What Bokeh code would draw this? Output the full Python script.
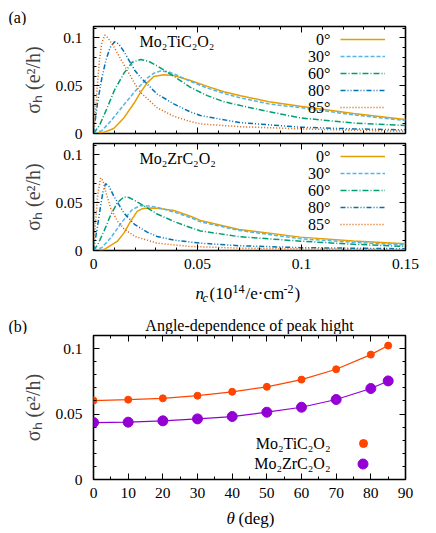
from bokeh.plotting import figure
from bokeh.layouts import column
from bokeh.models import (LinearAxis, FixedTicker, CustomJSTickFormatter, Label,
                          Legend, LegendItem, Range1d)
from bokeh.embed import file_html
from bokeh.resources import INLINE

# ------------------------------------------------------------------ data
angle_labels = ["0°", "30°", "60°", "80°", "85°"]

# panel (a) top: Mo2TiC2O2, sigma_h vs n_c
ti_n_0 = [0, 0.005, 0.0097, 0.0146, 0.0199, 0.0226, 0.0258, 0.029, 0.0338, 0.0386, 0.0466, 0.0547, 0.0627, 0.0707, 0.0843, 0.0995, 0.125, 0.15]
ti_s_0 = [0, 0.0012, 0.0052, 0.0163, 0.033, 0.043, 0.053, 0.0597, 0.0615, 0.0606, 0.0555, 0.0493, 0.0437, 0.0396, 0.0333, 0.0285, 0.021, 0.0146]
ti_n_30 = [0, 0.004, 0.0082, 0.0146, 0.0199, 0.0258, 0.029, 0.0322, 0.036, 0.0386, 0.0466, 0.0547, 0.0627, 0.0707, 0.0843, 0.0995, 0.125, 0.15]
ti_s_30 = [0, 0.003, 0.0128, 0.030, 0.044, 0.058, 0.063, 0.0655, 0.0645, 0.0625, 0.0545, 0.0476, 0.042, 0.0372, 0.031, 0.027, 0.0195, 0.0135]
ti_n_60 = [0, 0.003, 0.0066, 0.01, 0.0146, 0.0186, 0.0226, 0.0266, 0.0306, 0.0386, 0.0466, 0.0547, 0.0627, 0.0707, 0.0843, 0.0995, 0.125, 0.15]
ti_s_60 = [0, 0.009, 0.027, 0.045, 0.063, 0.0745, 0.0775, 0.0755, 0.0708, 0.060, 0.0483, 0.0396, 0.0333, 0.0292, 0.0229, 0.0163, 0.011, 0.0083]
ti_n_80 = [0, 0.002, 0.004, 0.006, 0.008, 0.0101, 0.012, 0.0146, 0.0199, 0.0226, 0.0306, 0.0386, 0.0466, 0.0514, 0.07, 0.0995, 0.125, 0.15]
ti_s_80 = [0, 0.033, 0.058, 0.077, 0.090, 0.096, 0.094, 0.086, 0.066, 0.0587, 0.0413, 0.031, 0.0225, 0.0188, 0.0115, 0.0066, 0.0048, 0.0038]
ti_n_85 = [0, 0.001, 0.002, 0.003, 0.004, 0.0055, 0.007, 0.01, 0.0146, 0.0199, 0.0226, 0.0306, 0.0386, 0.0466, 0.0514, 0.07, 0.0995, 0.125, 0.15]
ti_s_85 = [0, 0.025, 0.055, 0.080, 0.095, 0.103, 0.100, 0.090, 0.072, 0.052, 0.043, 0.027, 0.018, 0.0125, 0.0101, 0.0072, 0.0049, 0.0034, 0.0024]

# panel (a) bottom: Mo2ZrC2O2
zr_n_0 = [0, 0.005, 0.0114, 0.0146, 0.0178, 0.021, 0.0235, 0.026, 0.0306, 0.0386, 0.0466, 0.0514, 0.07, 0.0995, 0.125, 0.15]
zr_s_0 = [0, 0.001, 0.0095, 0.0182, 0.0305, 0.041, 0.0438, 0.0445, 0.0442, 0.0418, 0.0358, 0.0315, 0.022, 0.014, 0.010, 0.007]
zr_n_30 = [0, 0.004, 0.0082, 0.0114, 0.0146, 0.0186, 0.0226, 0.0266, 0.0306, 0.0386, 0.0466, 0.0514, 0.07, 0.0995, 0.125, 0.15]
zr_s_30 = [0, 0.003, 0.013, 0.0228, 0.0323, 0.0428, 0.047, 0.0465, 0.0453, 0.0403, 0.0345, 0.030, 0.021, 0.0123, 0.0085, 0.0058]
zr_n_60 = [0, 0.002, 0.005, 0.0082, 0.0114, 0.0146, 0.017, 0.0199, 0.0258, 0.0306, 0.0386, 0.0466, 0.0514, 0.07, 0.0995, 0.125, 0.15]
zr_s_60 = [0, 0.006, 0.020, 0.0368, 0.0498, 0.056, 0.0555, 0.0523, 0.0446, 0.0382, 0.0305, 0.024, 0.0205, 0.0145, 0.0098, 0.0065, 0.0042]
zr_n_80 = [0, 0.0018, 0.0034, 0.0046, 0.0058, 0.0075, 0.0098, 0.0146, 0.0199, 0.0258, 0.0306, 0.0386, 0.0466, 0.0514, 0.07, 0.0995, 0.15]
zr_s_80 = [0, 0.0235, 0.0463, 0.062, 0.070, 0.067, 0.0568, 0.0393, 0.027, 0.0193, 0.0147, 0.0109, 0.0088, 0.0077, 0.005, 0.003, 0.0018]
zr_n_85 = [0, 0.001, 0.002, 0.0034, 0.0046, 0.0058, 0.0082, 0.0114, 0.0146, 0.0199, 0.0306, 0.0466, 0.07, 0.0995, 0.15]
zr_s_85 = [0, 0.03, 0.058, 0.076, 0.073, 0.062, 0.0446, 0.0312, 0.0228, 0.0147, 0.0077, 0.0042, 0.0025, 0.0017, 0.001]

# panel (b): peak height vs angle
theta = [0, 10, 20, 30, 40, 50, 60, 70, 80, 85]
ti_peak = [0.0603, 0.0610, 0.0620, 0.0640, 0.0670, 0.0708, 0.0763, 0.0842, 0.0954, 0.1023]
zr_peak = [0.0435, 0.0438, 0.0448, 0.0463, 0.0481, 0.0514, 0.0552, 0.0611, 0.0695, 0.0753]

# ticks
nc_ticks = [0, 0.05, 0.1, 0.15]
nc_minor = [0.01, 0.02, 0.03, 0.04, 0.06, 0.07, 0.08, 0.09, 0.11, 0.12, 0.13, 0.14]
sig_ticks = [0, 0.05, 0.1]
sig_minor = [0.01, 0.02, 0.03, 0.04, 0.06, 0.07, 0.08, 0.09, 0.11]
th_ticks = [0, 10, 20, 30, 40, 50, 60, 70, 80, 90]
th_minor = [5, 15, 25, 35, 45, 55, 65, 75, 85]

# ------------------------------------------------------------------ style
FONT = "Liberation Serif"
colors = ["#e69f00", "#56b4e9", "#009e73", "#0072b2", "#d55e00"]
dashes = ["solid", "4 2", "6 2 1 2", "5 2 1 2 1 2", "1 2"]
W = 436
FW = 312
BL = 93
BR = W - BL - FW
NUMFMT = "return tick.toFixed(2).replace(/\\.?0+$/, '')"


def style_axis(ax, labels):
    ax.axis_line_color = None
    ax.major_tick_in = 6
    ax.major_tick_out = 0
    ax.minor_tick_in = 3
    ax.minor_tick_out = 0
    ax.major_tick_line_color = "black"
    ax.minor_tick_line_color = "black"
    if labels:
        ax.major_label_text_font = FONT
        ax.major_label_text_font_size = "15.5px"
        ax.major_label_text_color = "black"
    else:
        ax.formatter = CustomJSTickFormatter(code="return ''")
        ax.major_label_text_font_size = "0px"
        ax.major_label_standoff = 0
        ax.major_label_text_color = None


def make_fig(fh, bt, bb, xr, yr, xt, xm, yt, ym, xlabels, xfmt=None):
    p = figure(frame_width=FW, frame_height=fh, min_border_left=BL, min_border_right=BR,
               min_border_top=bt, min_border_bottom=bb,
               x_range=Range1d(*xr), y_range=Range1d(*yr),
               x_axis_location=None, y_axis_location=None,
               output_backend="svg", toolbar_location=None)
    p.grid.visible = False
    p.outline_line_color = "black"
    p.outline_line_width = 1.6
    p.background_fill_color = "white"
    p.border_fill_color = "white"
    left = LinearAxis(ticker=FixedTicker(ticks=yt, minor_ticks=ym),
                      formatter=CustomJSTickFormatter(code=NUMFMT))
    style_axis(left, True)
    left.major_label_standoff = 11
    left.axis_label = "σₕ (e²/h)"
    left.axis_label_text_font = FONT
    left.axis_label_text_font_size = "20px"
    left.axis_label_text_font_style = "normal"
    left.axis_label_standoff = 8
    p.add_layout(left, "left")
    right = LinearAxis(ticker=FixedTicker(ticks=yt, minor_ticks=ym))
    style_axis(right, False)
    p.add_layout(right, "right")
    below = LinearAxis(ticker=FixedTicker(ticks=xt, minor_ticks=xm))
    if xfmt is not None:
        below.formatter = CustomJSTickFormatter(code=xfmt)
    style_axis(below, xlabels)
    if xlabels:
        below.major_label_standoff = 8
    p.add_layout(below, "below")
    above = LinearAxis(ticker=FixedTicker(ticks=xt, minor_ticks=xm))
    style_axis(above, False)
    p.add_layout(above, "above")
    return p


def lab(p, text, x, y, size="16px", align="left", style="normal"):
    p.add_layout(Label(x=x, y=y, x_units="screen", y_units="screen", text=text,
                       text_font=FONT, text_font_size=size, text_align=align,
                       text_baseline="middle", text_font_style=style, text_color="black"))


XOFF = 0


def strip(h):
    global XOFF
    s = figure(width=W, height=h, min_border=0, x_range=Range1d(0, W), y_range=Range1d(0, h),
               x_axis_location=None, y_axis_location=None,
               output_backend="svg", toolbar_location=None)
    try:
        s.frame_align = False
    except Exception:
        XOFF = BL
    s.grid.visible = False
    s.outline_line_color = None
    s.background_fill_color = "white"
    s.border_fill_color = "white"
    return s


def panel_a(bt, bb, xlabels, ns, ss, name):
    p = make_fig(107, bt, bb, (0, 0.15), (0, 0.112), nc_ticks, nc_minor, sig_ticks, sig_minor,
                 xlabels, NUMFMT if xlabels else None)
    rs = []
    for n, s, c, d in zip(ns, ss, colors, dashes):
        rs.append(p.line(n, s, line_color=c, line_width=1.5, line_dash=d))
    leg = Legend(items=[LegendItem(label=" ", renderers=[r]) for r in rs],
                 location=(247, 18), orientation="vertical", padding=0, margin=0, spacing=1,
                 glyph_width=45, glyph_height=16, label_height=16, label_width=1,
                 label_standoff=0, label_text_font_size="1px",
                 border_line_alpha=0, background_fill_alpha=0)
    p.add_layout(leg)
    for i, t in enumerate(angle_labels):
        lab(p, t, 237, 94 - 17 * i, size="16px", align="right")
    lab(p, name, 46, 92, size="16px")
    return p


# strip with "(a)"   (abs y 0..25)
s_top = strip(25)
lab(s_top, "(a)", 8 - XOFF, 8.5)

# top panel (abs 25..142, frame 26..133)
p1 = panel_a(1, 9, False, [ti_n_0, ti_n_30, ti_n_60, ti_n_80, ti_n_85],
             [ti_s_0, ti_s_30, ti_s_60, ti_s_80, ti_s_85], "Mo₂TiC₂O₂")

# bottom panel (abs 142..280, frame 143..250)
p2 = panel_a(1, 30, True, [zr_n_0, zr_n_30, zr_n_60, zr_n_80, zr_n_85],
             [zr_s_0, zr_s_30, zr_s_60, zr_s_80, zr_s_85], "Mo₂ZrC₂O₂")

# strip with x-label of (a), "(b)" and the title of (b)   (abs 280..334)
s_mid = strip(54)
lab(s_mid, "n", 195 - XOFF, 41, size="17px", style="italic")
lab(s_mid, "c", 202 - XOFF, 37, size="12px", style="italic")
lab(s_mid, "(10", 209 - XOFF, 41, size="17px")
lab(s_mid, "14", 232 - XOFF, 46, size="12px")
lab(s_mid, "/e·cm", 245 - XOFF, 41, size="17px")
lab(s_mid, "-2", 283 - XOFF, 46, size="12px")
lab(s_mid, ")", 294 - XOFF, 41, size="17px")
lab(s_mid, "(b)", 8 - XOFF, 8)
lab(s_mid, "Angle-dependence of peak hight", 249 - XOFF, 9, size="16px", align="center")

# panel (b) (abs 334..505, frame 335..479)
p3 = make_fig(144, 1, 26, (0, 90), (0, 0.11), th_ticks, th_minor, sig_ticks, sig_minor, True)
p3.line(theta, ti_peak, line_color="#ff4500", line_width=1.2)
p3.line(theta, zr_peak, line_color="#9400d3", line_width=1.2)
r_ti = p3.scatter(theta, ti_peak, marker="circle", size=7, color="#ff4500")
r_zr = p3.scatter(theta, zr_peak, marker="circle", size=10, color="#9400d3")
for r, loc, g in [(r_ti, (260, 26), 20), (r_zr, (257, 3), 25)]:
    p3.add_layout(Legend(items=[LegendItem(label=" ", renderers=[r])], location=loc,
                         padding=0, margin=0, spacing=0, glyph_width=g, glyph_height=g,
                         label_height=g, label_width=1, label_standoff=0,
                         label_text_font_size="1px", border_line_alpha=0,
                         background_fill_alpha=0))
lab(p3, "Mo₂TiC₂O₂", 237, 36, size="16px", align="right")
lab(p3, "Mo₂ZrC₂O₂", 237, 16, size="16px", align="right")

# strip with theta label (abs 505..530)
s_bot = strip(25)
lab(s_bot, "θ", 226 - XOFF, 12, size="17px", style="italic")
lab(s_bot, "(deg)", 238 - XOFF, 12, size="17px")

layout = column(s_top, p1, p2, s_mid, p3, s_bot)
open("out.html", "w").write(file_html(layout, INLINE))
